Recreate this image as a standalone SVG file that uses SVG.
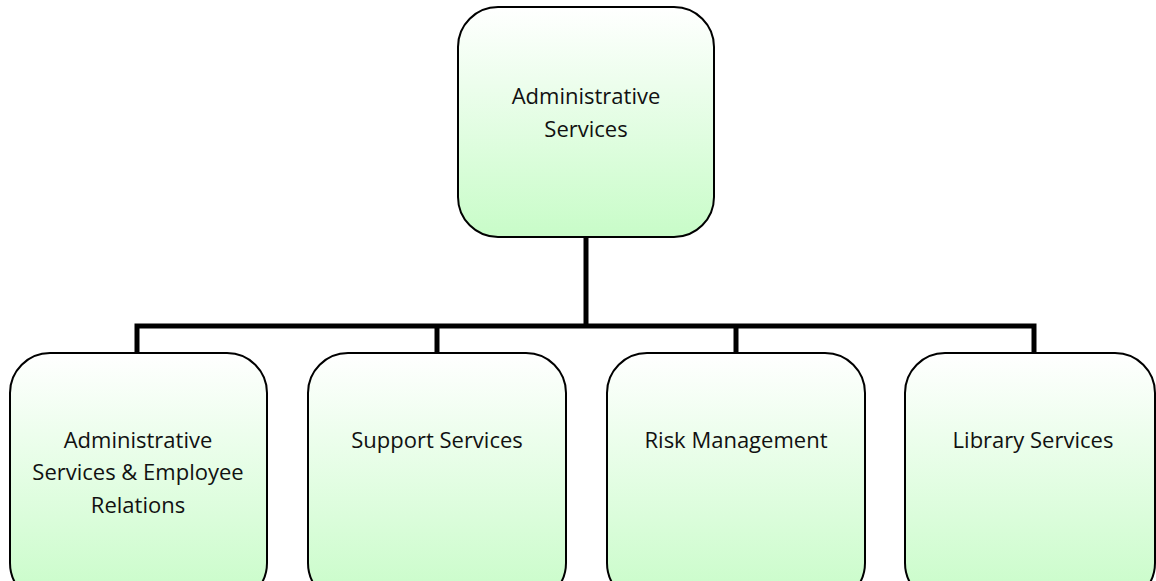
<svg xmlns="http://www.w3.org/2000/svg" width="1156" height="581" viewBox="0 0 1156 581">
<defs>
<linearGradient id="g" x1="0" y1="0" x2="0" y2="1">
<stop offset="0" stop-color="#ffffff"/>
<stop offset="1" stop-color="#c8fcc8"/>
</linearGradient>
<style>
.box{fill:url(#g);stroke:#000;stroke-width:2}
.t{font-family:"Open Sans","DejaVu Sans",sans-serif;font-size:22px;fill:#111;text-anchor:middle}
.c{fill:none;stroke:#000;stroke-width:5;stroke-linejoin:miter}
</style>
</defs>
<rect width="1156" height="581" fill="#fff"/>
<g id="connectors">
<path class="c" d="M586 237 V326"/>
<path class="c" d="M137 353 V326 H1034 V353"/>
<path class="c" d="M437 326 V353"/>
<path class="c" d="M736 326 V353"/>
</g>
<g id="n0">
<rect class="box" x="458" y="7" width="256" height="230" rx="40"/>
<text class="t" x="586" y="104">Administrative</text>
<text class="t" x="586" y="137">Services</text>
</g>
<g id="n1">
<rect class="box" x="10" y="353" width="257" height="250" rx="40"/>
<text class="t" x="138" y="448">Administrative</text>
<text class="t" x="138" y="480">Services &amp; Employee</text>
<text class="t" x="138" y="513">Relations</text>
</g>
<g id="n2">
<rect class="box" x="308" y="353" width="258" height="250" rx="40"/>
<text class="t" x="437" y="448">Support Services</text>
</g>
<g id="n3">
<rect class="box" x="607" y="353" width="258" height="250" rx="40"/>
<text class="t" x="736" y="448">Risk Management</text>
</g>
<g id="n4">
<rect class="box" x="905" y="353" width="250" height="250" rx="40"/>
<text class="t" x="1033" y="448">Library Services</text>
</g>
</svg>
